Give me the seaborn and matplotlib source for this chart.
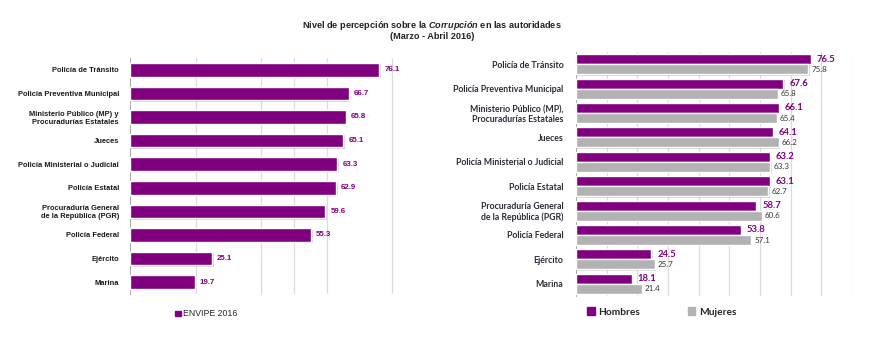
import matplotlib
matplotlib.use("Agg")
import matplotlib.pyplot as plt
import matplotlib.patheffects as pe
from matplotlib.patches import Patch
from matplotlib.font_manager import FontProperties
import numpy as np
import pandas as pd
import seaborn as sns

# datos ==========================================================================
cats_izq = ["Policía de Tránsito", "Policía Preventiva Municipal",
            "Ministerio Público (MP) y\nProcuradurías Estatales", "Jueces",
            "Policía Ministerial o Judicial", "Policía Estatal",
            "Procuraduría General\nde la República (PGR)", "Policía Federal",
            "Ejército", "Marina"]
envipe_2016 = [76.1, 66.7, 65.8, 65.1, 63.3, 62.9, 59.6, 55.3, 25.1, 19.7]

cats_der = ["Policía de Tránsito", "Policía Preventiva Municipal",
            "Ministerio Público (MP),\nProcuradurías Estatales", "Jueces",
            "Policía Ministerial o Judicial", "Policía Estatal",
            "Procuraduría General\nde la República (PGR)", "Policía Federal",
            "Ejército", "Marina"]
hombres = [76.5, 67.6, 66.1, 64.1, 63.2, 63.1, 58.7, 53.8, 24.5, 18.1]
mujeres = [75.8, 65.8, 65.4, 66.2, 63.3, 62.7, 60.6, 57.1, 25.7, 21.4]

PURPLE = "#800080"
GREY = "#b2b2b2"
GRID = "#dcdcdc"

sns.set_style("white")
plt.rcParams["font.family"] = ["Liberation Sans", "DejaVu Sans"]
plt.rcParams["mathtext.fontset"] = "custom"
plt.rcParams["mathtext.it"] = "Liberation Sans:italic:bold"
plt.rcParams["mathtext.rm"] = "Liberation Sans:bold"

fig = plt.figure(figsize=(8.81, 3.54), dpi=100)

# titulo
fig.text(0.49, 0.927, "Nivel de percepción sobre la $\\it{Corrupción}$ en las autoridades",
         ha="center", va="center", fontsize=6.6, fontweight="bold", color="#222222")
fig.text(0.49, 0.897, "(Marzo - Abril 2016)", ha="center", va="center",
         fontsize=6.6, fontweight="bold", color="#222222")

shadow = [pe.SimplePatchShadow(offset=(1, -1), shadow_rgbFace="#888888", alpha=0.35), pe.Normal()]

# panel izquierdo ================================================================
ax1 = fig.add_axes([130 / 881, 1 - 294 / 354, 295 / 881, 236 / 354])
df1 = pd.DataFrame({"cat": cats_izq, "val": envipe_2016})
sns.barplot(data=df1, x="val", y="cat", color=PURPLE, width=0.57, saturation=1,
            ax=ax1, zorder=3)
for p in ax1.patches:
    p.set_path_effects(shadow)
for g in [20, 40, 50, 60, 80]:
    ax1.axvline(g, color=GRID, lw=0.9, zorder=0)
for i, v in enumerate(envipe_2016):
    ax1.text(v + 1.5, i, f"{v:.1f}", va="center", ha="left", fontsize=5.7,
             fontweight="bold", color=PURPLE)
ax1.set_xlim(0, 90)
ax1.set_ylim(len(cats_izq) - 0.5, -0.5)
ax1.set_xlabel("")
ax1.set_ylabel("")
ax1.set_xticks([])
fp_izq = FontProperties(family=["Liberation Sans", "DejaVu Sans"], weight="bold", size=5.4)
ax1.set_yticks(range(len(cats_izq)), cats_izq, fontproperties=fp_izq, color="#1a1a1a")
ax1.tick_params(axis="y", length=0, pad=8)
ax1.set_yticks(np.arange(-0.5, len(cats_izq), 1), minor=True)
ax1.tick_params(axis="y", which="minor", length=3, color="#999999", width=0.6)
for s in ["top", "right", "bottom"]:
    ax1.spines[s].set_visible(False)
ax1.spines["left"].set_color("#999999")
ax1.spines["left"].set_linewidth(0.6)
ax1.legend(handles=[Patch(color=PURPLE, label="ENVIPE 2016")], loc="center left",
           bbox_to_anchor=(171 / 881, 1 - 314 / 354), bbox_transform=fig.transFigure,
           frameon=False, fontsize=6.3, handlelength=0.6, handleheight=0.6,
           handletextpad=0.3, borderpad=0)

# panel derecho ==================================================================
ax2 = fig.add_axes([576 / 881, 1 - 296 / 354, 276 / 881, 244 / 354])
df2 = pd.DataFrame({"cat": cats_der * 2,
                    "val": hombres + mujeres,
                    "sexo": ["Hombres"] * len(hombres) + ["Mujeres"] * len(mujeres)})
sns.barplot(data=df2, x="val", y="cat", hue="sexo", palette=[PURPLE, GREY],
            width=0.82, saturation=1, ax=ax2, zorder=3, legend=False)
for p in ax2.patches:
    p.set_path_effects(shadow)
for g in range(10, 100, 10):
    ax2.axvline(g, color=GRID, lw=0.9, zorder=0)
for i, (h, m) in enumerate(zip(hombres, mujeres)):
    ax2.text(h + 2.0, i - 0.205, f"{h:.1f}", va="center", ha="left", fontsize=6.8,
             fontweight="bold", color=PURPLE, family=["Lato", "DejaVu Sans"])
    ax2.text(m + 1.0, i + 0.205, f"{m:.1f}", va="center", ha="left", fontsize=5.8,
             color="#333333", family=["Lato", "DejaVu Sans"])
ax2.set_xlim(0, 90)
ax2.set_ylim(len(cats_der) - 0.5, -0.5)
ax2.set_xlabel("")
ax2.set_ylabel("")
ax2.set_xticks([])
fp_der = FontProperties(family=["Lato", "DejaVu Sans"], weight="bold", size=6.3)
ax2.set_yticks(range(len(cats_der)), cats_der, fontproperties=fp_der, color="#2b2b3a")
ax2.tick_params(axis="y", length=0, pad=9)
ax2.set_yticks(np.arange(-0.5, len(cats_der), 1), minor=True)
ax2.tick_params(axis="y", which="minor", length=3, color="#999999", width=0.6)
for s in ["top", "right", "bottom"]:
    ax2.spines[s].set_visible(False)
ax2.spines["left"].set_color("#999999")
ax2.spines["left"].set_linewidth(0.6)
ax2.legend(handles=[Patch(color=PURPLE, label="Hombres"), Patch(color=GREY, label="Mujeres")],
           loc="center left", bbox_to_anchor=(582 / 881, 1 - 312 / 354),
           bbox_transform=fig.transFigure, ncol=2, frameon=False,
           prop={"family": ["Lato", "DejaVu Sans"], "weight": "bold", "size": 7.3},
           handlelength=0.75, handleheight=0.75, handletextpad=0.35,
           columnspacing=4.7, borderpad=0)

fig.savefig("out.png", dpi=100)
